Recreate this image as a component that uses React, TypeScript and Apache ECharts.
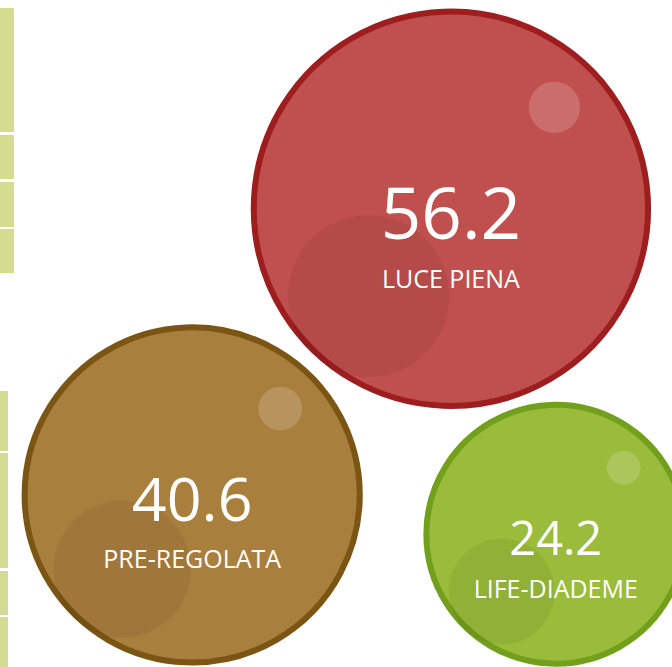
import React, { useEffect, useRef } from "react";
import * as echarts from "echarts";

// ---- data ----
const categories = ["LUCE PIENA", "PRE-REGOLATA", "LIFE-DIADEME"];
const values = [56.2, 40.6, 24.2];
// bubble positions on hidden 0-100 axes
const xPos = [67.1, 28.6, 82.7];
const yPos = [68.7, 25.8, 19.9];

// ---- styles ----
const fillColors = ["#c0504d", "#a97f3e", "#9bbb3a"];
const borderColors = ["#9e1e20", "#7b5513", "#72a01c"];
const SIZE_K = 52.6;
const BORDER = 6;

export default function App() {
  const ref = useRef<HTMLDivElement>(null);

  useEffect(() => {
    document.body.style.margin = "0";
    if (!ref.current) return;
    const chart = echarts.init(ref.current, undefined, { renderer: "svg" });

    const sizeOf = (v: number) => SIZE_K * Math.sqrt(v);
    const base = categories.map((name, i) => ({
      name,
      value: [xPos[i], yPos[i], values[i]],
    }));

    const bubbles = base.map((d, i) => ({
      ...d,
      itemStyle: { color: fillColors[i], borderColor: borderColors[i], borderWidth: BORDER, opacity: 1 },
    }));

    const valueLabels = base.map((d) => {
      const s = sizeOf(d.value[2] as number);
      return {
        ...d,
        label: { fontSize: Math.round(0.178 * (s + BORDER)), offset: [0, 3] },
      };
    });

    const nameLabels = base.map((d) => {
      const s = sizeOf(d.value[2] as number);
      return {
        ...d,
        label: { offset: [0, Math.round(0.11 * s + 26)] },
      };
    });

    const labelSeriesBase = {
      type: "scatter" as const,
      symbolSize: (val: number[]) => sizeOf(val[2]),
      itemStyle: { color: "rgba(0,0,0,0)", opacity: 1 },
      silent: true,
      z: 5,
    };

    chart.setOption({
      animation: false,
      backgroundColor: "#ffffff",
      grid: { left: 0, right: 0, top: 0, bottom: 0 },
      xAxis: { type: "value", min: 0, max: 100, show: false },
      yAxis: { type: "value", min: 0, max: 100, show: false },
      graphic: [
        { type: "rect", shape: { x: 0, y: 8, width: 14, height: 124 }, style: { fill: "#d6dc8f" } },
        { type: "rect", shape: { x: 0, y: 135, width: 14, height: 44 }, style: { fill: "#d6dc8f" } },
        { type: "rect", shape: { x: 0, y: 182, width: 14, height: 45 }, style: { fill: "#d6dc8f" } },
        { type: "rect", shape: { x: 0, y: 229, width: 14, height: 44 }, style: { fill: "#d6dc8f" } },
        { type: "rect", shape: { x: 0, y: 391, width: 8, height: 60 }, style: { fill: "#d4dc91" } },
        { type: "rect", shape: { x: 0, y: 453, width: 8, height: 115 }, style: { fill: "#d4dc91" } },
        { type: "rect", shape: { x: 0, y: 571, width: 8, height: 44 }, style: { fill: "#d4dc91" } },
        { type: "rect", shape: { x: 0, y: 617, width: 8, height: 50 }, style: { fill: "#d4dc91" } },
      ],
      series: [
        {
          name: "bubbles",
          type: "scatter",
          symbol: "circle",
          symbolSize: (val: number[]) => sizeOf(val[2]),
          data: bubbles,
          z: 2,
          label: { show: false },
        },
        {
          name: "shade",
          type: "scatter",
          symbol: "circle",
          symbolSize: (val: number[]) => 0.41 * sizeOf(val[2]),
          symbolOffset: ["-51%", "54%"],
          itemStyle: { color: "rgba(0,0,0,0.06)", opacity: 1 },
          data: base,
          silent: true,
          z: 3,
        },
        {
          name: "gloss",
          type: "scatter",
          symbol: "circle",
          symbolSize: (val: number[]) => 0.13 * sizeOf(val[2]),
          symbolOffset: ["202%", "-198%"],
          itemStyle: { color: "rgba(255,255,255,0.17)", opacity: 1 },
          data: base,
          silent: true,
          z: 3,
        },
        {
          ...labelSeriesBase,
          name: "values",
          data: valueLabels,
          label: {
            show: true,
            position: "inside",
            color: "#ffffff",
            opacity: 1,
            fontFamily: "Open Sans",
            formatter: (p: any) => String(p.value[2]),
          },
        },
        {
          ...labelSeriesBase,
          name: "names",
          data: nameLabels,
          label: {
            show: true,
            position: "inside",
            color: "#ffffff",
            opacity: 1,
            fontFamily: "Open Sans",
            fontSize: 25,
            formatter: (p: any) => p.name,
          },
        },
      ],
    });

    return () => chart.dispose();
  }, []);

  return <div ref={ref} style={{ width: 672, height: 667 }} />;
}
